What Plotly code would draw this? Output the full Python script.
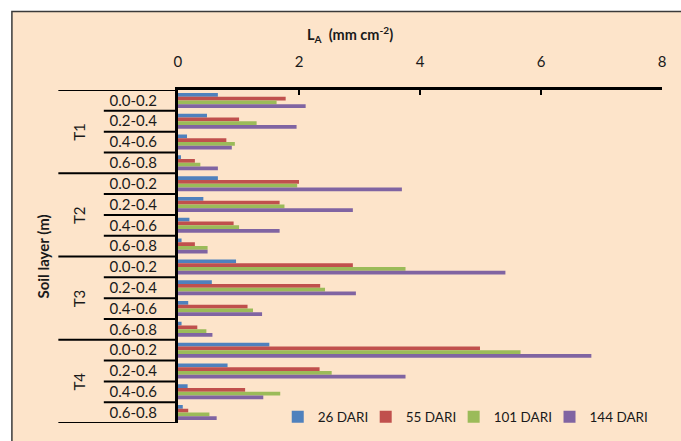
import plotly.graph_objects as go

W, H = 681, 441

groups = ["T1", "T2", "T3", "T4"]
depths = ["0.0-0.2", "0.2-0.4", "0.4-0.6", "0.6-0.8"]
series_names = ["26 DARI", "55 DARI", "101 DARI", "144 DARI"]
colors = ["#4F81BD", "#C0504D", "#9BBB59", "#8064A2"]

d26 = [0.66, 0.48, 0.15, 0.05, 0.66, 0.42, 0.19, 0.06, 0.96, 0.56, 0.17, 0.06, 1.51, 0.82, 0.16, 0.08]
d55 = [1.78, 1.01, 0.80, 0.28, 2.00, 1.68, 0.92, 0.28, 2.89, 2.35, 1.15, 0.32, 4.99, 2.34, 1.11, 0.17]
d101 = [1.63, 1.30, 0.94, 0.37, 1.97, 1.76, 1.01, 0.49, 3.76, 2.43, 1.24, 0.47, 5.66, 2.54, 1.69, 0.52]
d144 = [2.11, 1.96, 0.89, 0.66, 3.70, 2.89, 1.68, 0.49, 5.41, 2.94, 1.39, 0.57, 6.83, 3.76, 1.41, 0.64]
series_values = [d26, d55, d101, d144]

x_ticks = [0, 2, 4, 6, 8]

FONT = "Lato"
TXT = "#1a1a1a"

n_cat = len(groups) * len(depths)
ypos = list(range(n_cat))
ylabels = [d for g in groups for d in depths]

def px(x):
    return x / W

def py(y):
    return 1 - y / H

legend_ids = ["legend", "legend2", "legend3", "legend4"]
legend_x_px = [277, 366, 455, 552]

fig = go.Figure()
for name, vals, col, lid in zip(series_names, series_values, colors, legend_ids):
    fig.add_trace(go.Bar(
        y=ypos, x=vals, name=name, orientation="h",
        marker=dict(color=col, line=dict(width=0)),
        legend=lid,
    ))

shapes = []
# chart area background + border
shapes.append(dict(type="rect", xref="paper", yref="paper",
                   x0=px(8), x1=1.02, y0=-0.02, y1=py(11.5),
                   fillcolor="#FDE4CA", line=dict(color="#3a3a3a", width=1.5),
                   layer="below"))
# category separators
for i in range(n_cat + 1):
    yb = i - 0.5
    is_group = (i % len(depths) == 0)
    x0 = px(55) if is_group else px(101)
    shapes.append(dict(type="line", xref="paper", yref="y",
                       x0=x0, x1=px(176), y0=yb, y1=yb,
                       line=dict(color="black", width=2)))

annotations = []
for gi, g in enumerate(groups):
    annotations.append(dict(
        text=g, xref="paper", yref="y", x=px(76),
        y=gi * len(depths) + (len(depths) - 1) / 2,
        showarrow=False, textangle=-90,
        font=dict(family=FONT, size=15, color=TXT),
        xanchor="center", yanchor="middle"))
annotations.append(dict(
    text="<b>L<sub>A</sub>  (mm cm<sup>-2</sup>)</b>",
    xref="paper", yref="paper", x=px(350), y=py(34),
    showarrow=False, font=dict(family=FONT, size=14.5, color=TXT),
    xanchor="center", yanchor="middle"))
annotations.append(dict(
    text="<b>Soil layer (m)</b>",
    xref="paper", yref="paper", x=px(39), y=py(257),
    showarrow=False, textangle=-90,
    font=dict(family=FONT, size=15, color=TXT),
    xanchor="center", yanchor="middle"))

legend_layout = {}
for lid, lx in zip(legend_ids, legend_x_px):
    legend_layout[lid] = dict(
        orientation="h", x=px(lx), xanchor="left",
        y=py(417), yanchor="middle",
        bgcolor="rgba(0,0,0,0)",
        font=dict(family=FONT, size=13.5, color=TXT),
    )

fig.update_layout(
    width=W, height=H,
    margin=dict(l=0, r=0, t=0, b=0),
    paper_bgcolor="white",
    plot_bgcolor="rgba(0,0,0,0)",
    barmode="group",
    bargap=0.28,
    bargroupgap=0,
    font=dict(family=FONT, size=14, color=TXT),
    shapes=shapes,
    annotations=annotations,
    xaxis=dict(
        domain=[px(176), px(666)],
        range=[0, 8], side="top",
        tickvals=x_ticks, ticktext=[str(t) for t in x_ticks],
        showgrid=False, zeroline=False,
        showline=True, linecolor="black", linewidth=3,
        ticks="inside", ticklen=5, tickwidth=2, tickcolor="black",
        ticklabelstandoff=14,
        tickfont=dict(family=FONT, size=15, color=TXT),
    ),
    yaxis=dict(
        domain=[py(423), py(90)],
        range=[n_cat - 0.5, -0.5],
        tickvals=ypos, ticktext=ylabels,
        showgrid=False, zeroline=False,
        showline=True, linecolor="black", linewidth=3,
        ticks="", ticklabelstandoff=15,
        tickfont=dict(family=FONT, size=15, color=TXT),
    ),
    showlegend=True,
    **legend_layout,
)

fig.write_html("out.html", config={"displayModeBar": False},
               post_script="document.body.style.margin='0px';")
